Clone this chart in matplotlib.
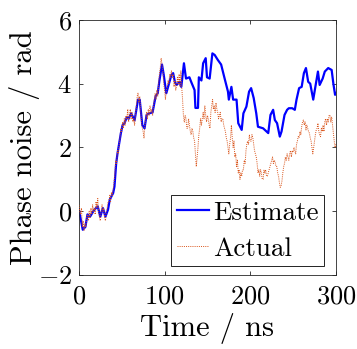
import matplotlib
matplotlib.use("Agg")
import matplotlib.pyplot as plt

plt.rcParams['font.family'] = ['cmr10']
plt.rcParams['mathtext.fontset'] = 'cm'
plt.rcParams['axes.formatter.use_mathtext'] = True
plt.rcParams['axes.unicode_minus'] = True

# Estimate (blue)
est_t = [0, 4.5, 7.6, 10, 13, 18, 22, 25, 28, 31, 34, 36, 40, 41.5, 43.5, 45, 49, 51, 53, 56, 58, 61, 65,
         69, 71, 74, 76.6, 79, 82, 86, 89.5, 92, 94, 97, 99, 102, 104.7, 108, 110, 112, 114, 117.5, 119.5,
         122.6, 125, 129, 131, 135, 136, 139, 140, 143, 145, 148, 149.5, 152.6, 155.8, 158.5, 162, 166,
         170, 174, 175, 178, 180, 184, 186, 190, 192, 195.5, 198.6, 201, 204, 207, 209, 215, 219, 221,
         223.6, 226.7, 228.7, 231.3, 234.5, 236.5, 240, 243, 245, 249, 252, 254, 257, 260, 262.6, 265,
         267.6, 270, 273.5, 276.6, 279, 281, 284.5, 287, 291, 295, 297, 299, 300]
est_v = [0.05, -0.58, -0.49, -0.1, -0.17, 0.05, 0.15, -0.17, 0.1, -0.17, 0.05, 0.36, 0.57, 0.77, 1.5, 1.8,
         2.45, 2.7, 2.75, 2.95, 2.9, 3.07, 2.85, 3.5, 3.5, 2.7, 2.6, 3.02, 3.07, 3.1, 3.6, 3.7, 4.1, 4.6,
         4.28, 3.7, 3.96, 4.28, 4.33, 4.06, 3.96, 4.06, 3.9, 4.64, 4.16, 4.2, 4.06, 3.8, 3.24, 3.24, 4.2,
         4.1, 4.64, 4.8, 4.2, 4.16, 4.95, 4.9, 4.75, 4.6, 4.17, 3.75, 3.5, 3.9, 3.5, 3.5, 2.76, 2.55,
         3.07, 3.28, 3.75, 3.86, 3.55, 3.07, 2.65, 2.6, 2.5, 2.45, 3.02, 3.18, 2.86, 2.76, 2.34, 2.5,
         3.02, 3.18, 3.23, 3.23, 3.18, 3.5, 3.86, 3.9, 4.33, 4.49, 4.06, 4.0, 3.5, 4.0, 4.38, 3.96, 4.16,
         4.38, 4.49, 4.43, 4.0, 3.65, 3.7]

# Actual (orange, dotted), sampled every 1 ns from 0 to 300
act_t = list(range(0, 301))
act_v = [0.2, 0.0, -0.1, 0.1, -0.5, -0.3, -0.6, -0.4, -0.5, -0.2,
         -0.1, -0.3, 0.0, -0.2, 0.1, -0.1, 0.2, 0.0, 0.1, -0.1,
         0.3, 0.1, 0.4, 0.0, -0.2, -0.3, 0.0, 0.2, 0.0, 0.1,
         -0.2, -0.3, 0.0, 0.1, 0.3, 0.3, 0.5, 0.3, 0.6, 0.5,
         0.7, 0.9, 1.2, 1.6, 1.5, 1.9, 1.8, 2.1, 2.3, 2.6,
         2.5, 2.8, 2.6, 2.9, 2.7, 3.0, 2.9, 3.2, 2.8, 3.0,
         3.2, 2.9, 3.1, 2.8, 2.9, 2.7, 3.0, 3.3, 3.6, 3.7,
         3.4, 3.6, 3.2, 2.8, 2.6, 2.5, 2.3, 2.7, 2.9, 3.1,
         2.9, 3.2, 3.0, 3.3, 3.1, 3.2, 3.0, 3.3, 3.5, 3.7,
         3.5, 3.8, 3.6, 4.0, 4.3, 4.5, 4.8, 4.6, 4.4, 4.0,
         3.8, 3.5, 3.8, 3.9, 4.1, 4.0, 4.3, 4.2, 4.4, 4.2,
         4.3, 3.9, 4.1, 3.8, 3.9, 4.2, 4.0, 4.3, 3.9, 4.4,
         3.9,
         3.5, 3.0, 2.8, 3.0, 2.9, 2.6, 2.6, 2.9, 2.7, 2.5,
         2.4, 2.6, 2.5, 2.3, 2.2, 1.8, 1.4, 1.7, 2.0, 2.4,
         2.6, 2.9, 2.7, 2.9, 3.1, 2.9, 3.3, 3.0, 2.8, 3.0,
         2.9, 2.7, 2.6, 3.1, 3.3, 3.5, 3.2, 3.3, 3.1, 3.4,
         3.2, 3.1, 2.9, 3.0, 3.1, 2.8, 2.9, 2.9, 2.7, 2.6,
         2.5, 2.3, 2.2, 2.0, 1.8, 2.1, 2.3, 2.7, 2.3, 2.0,
         2.2, 1.7, 1.8, 1.4, 1.6, 1.2, 1.3, 1.0, 1.2, 1.1,
         1.3, 1.3, 1.6, 1.5, 1.9, 2.1, 2.2, 2.1, 2.4, 2.2,
         2.2, 2.4, 2.3, 2.1, 1.9, 1.8, 1.7, 1.5, 1.2, 1.3,
         1.1, 1.3, 1.2, 1.0, 1.0, 1.3, 1.2, 1.3, 1.1, 1.1,
         1.2, 1.3, 1.4, 1.5, 1.6, 1.7, 1.5, 1.6, 1.55, 1.4,
         1.4, 1.2, 1.1, 0.9, 0.75, 0.8, 0.95, 1.2, 1.4, 1.5,
         1.7, 1.6, 1.8, 1.7, 1.6, 1.8, 1.9, 1.7, 1.9, 1.85,
         2.0, 1.9, 1.8, 2.1, 2.2, 2.34, 2.3, 2.5, 2.4, 2.65,
         2.8, 2.86, 2.7, 2.8, 2.55, 2.7, 2.6, 2.5, 2.45, 2.3,
         2.2, 2.0, 1.8, 2.0, 2.2, 2.4, 2.55, 2.6, 2.76, 2.5,
         2.4, 2.34, 2.6, 2.5, 2.7, 2.5, 2.8, 2.9, 2.7, 2.9,
         2.8, 3.0, 3.02, 2.8, 2.96, 2.7, 2.45, 2.2, 2.0, 2.1]

x_ticks = [0, 100, 200, 300]
y_ticks = [-2, 0, 2, 4, 6]

fig = plt.figure(figsize=(3.57, 3.49), dpi=100)
ax = fig.add_axes([0.221, 0.212, 0.72, 0.731])

ax.plot(est_t, est_v, color=(0, 0, 1), lw=1.6, label='Estimate', zorder=2)
ax.plot(act_t, act_v, color=(0.85, 0.325, 0.098), lw=0.7, ls=(0, (1, 1.2)), label='Actual', zorder=3)

ax.set_xlim(0, 300)
ax.set_ylim(-2, 6)
ax.set_xticks(x_ticks)
ax.set_yticks(y_ticks)
ax.tick_params(direction='in', top=True, right=True, labelsize=19, length=3,
               color=(0.15, 0.15, 0.15), width=0.6)
ax.tick_params(axis='x', pad=7)
ax.tick_params(axis='y', pad=5)
for s in ax.spines.values():
    s.set_color((0.15, 0.15, 0.15))
    s.set_linewidth(0.6)

ax.set_xlabel('Time / ns', fontsize=22, labelpad=3)
ax.set_ylabel('Phase noise / rad', fontsize=22, labelpad=-2)

leg = ax.legend(loc='lower right', bbox_to_anchor=(0.955, 0.035), borderaxespad=0,
                fontsize=19.5, fancybox=False, edgecolor='black', framealpha=1,
                handlelength=1.2, handletextpad=0.15, borderpad=0.2, labelspacing=0.45)
leg.get_frame().set_linewidth(0.6)

fig.savefig('out.png', dpi=100)
